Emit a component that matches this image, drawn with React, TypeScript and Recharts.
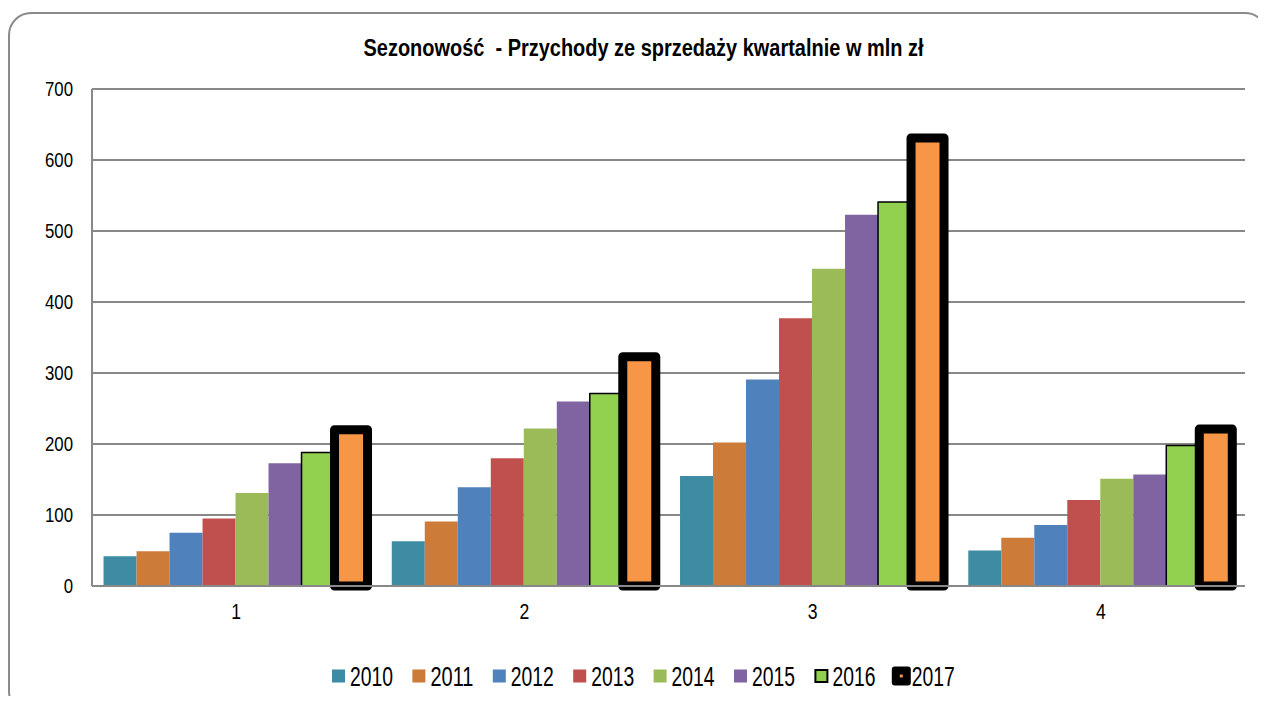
import { BarChart, Bar, XAxis, YAxis, CartesianGrid } from 'recharts';

const FONT = "'Liberation Sans', Arial, sans-serif";

// kwartały
const quarters = ['1', '2', '3', '4'];
const years = ['2010', '2011', '2012', '2013', '2014', '2015', '2016', '2017'];

// przychody w mln zł
const v2010 = [42, 63, 155, 50];
const v2011 = [49, 91, 202, 68];
const v2012 = [75, 139, 291, 86];
const v2013 = [95, 180, 377, 121];
const v2014 = [131, 222, 447, 151];
const v2015 = [173, 260, 523, 157];
const v2016 = [188, 271, 541, 198];
const v2017 = [220, 323, 631, 221];

const yTicks = [0, 100, 200, 300, 400, 500, 600, 700];

const seriesValues = [v2010, v2011, v2012, v2013, v2014, v2015, v2016, v2017];
const colors = ['#3D8CA3', '#CC7B38', '#4F81BD', '#C0504D', '#9BBB59', '#8064A2', '#92D050', '#F79646'];

const data = quarters.map((q, i) => {
  const row: Record<string, string | number> = { quarter: q };
  years.forEach((y, j) => {
    row[y] = seriesValues[j][i];
  });
  return row;
});

// tekst zwężony jak w Arial Narrow
function YTick(props: any) {
  const { x, y, payload } = props;
  return (
    <g transform={`translate(${x},${y}) scale(0.8,1)`}>
      <text x={0} y={0} dy="0.355em" textAnchor="end" fontSize={21} fontFamily={FONT} fill="#000">
        {payload.value}
      </text>
    </g>
  );
}

function XTick(props: any) {
  const { x, y, payload } = props;
  return (
    <g transform={`translate(${x},${y}) scale(0.8,1)`}>
      <text x={0} y={0} dy="0.71em" textAnchor="middle" fontSize={22} fontFamily={FONT} fill="#000">
        {payload.value}
      </text>
    </g>
  );
}

function LegendItem({ index, label }: { index: number; label: string }) {
  const left = 332 + index * 80.4;
  const cy = 676;
  let marker;
  if (index === 7) {
    marker = (
      <g>
        <rect x={left - 3} y={cy - 9.5} width={19} height={19} rx={3} fill="#000" />
        <rect x={left + 5} y={cy - 1.5} width={3} height={3} fill={colors[7]} />
      </g>
    );
  } else if (index === 6) {
    marker = <rect x={left + 1} y={cy - 6} width={12} height={12} fill={colors[6]} stroke="#000" strokeWidth={2} />;
  } else {
    marker = <rect x={left} y={cy - 6.5} width={13} height={13} fill={colors[index]} />;
  }
  const tx = index === 7 ? left + 17 : left + 18;
  return (
    <g>
      {marker}
      <text x={tx} y={cy + 10} fontSize={28} fontFamily={FONT} fill="#000" textLength={43} lengthAdjust="spacingAndGlyphs">
        {label}
      </text>
    </g>
  );
}

export default function App() {
  return (
    <div style={{ position: 'relative', width: 1266, height: 704, margin: -8, overflow: 'hidden', background: '#fff' }}>
      <BarChart
        width={1266}
        height={704}
        data={data}
        margin={{ top: 89, right: 21, bottom: 88, left: 0 }}
        barGap={0}
        barCategoryGap="4%"
        style={{ position: 'absolute', left: 0, top: 0 }}
      >
        <CartesianGrid vertical={false} stroke="#888888" strokeWidth={2} />
        <XAxis
          dataKey="quarter"
          height={30}
          axisLine={{ stroke: '#888888', strokeWidth: 2 }}
          tickLine={false}
          tickSize={0}
          tickMargin={17}
          tick={<XTick />}
        />
        <YAxis
          width={92}
          domain={[0, 700]}
          ticks={yTicks}
          interval={0}
          axisLine={{ stroke: '#888888', strokeWidth: 2 }}
          tickLine={false}
          tickSize={0}
          tickMargin={19}
          tick={<YTick />}
        />
        {years.map((y, j) => (
          <Bar
            key={y}
            dataKey={y}
            fill={colors[j]}
            stroke={j >= 6 ? '#000' : 'none'}
            strokeWidth={j === 7 ? 9 : j === 6 ? 1.5 : 0}
            strokeLinejoin="round"
            isAnimationActive={false}
          />
        ))}
      </BarChart>
      <svg width={1266} height={704} style={{ position: 'absolute', left: 0, top: 0, pointerEvents: 'none' }}>
        <rect x={9} y={13} width={1258} height={700} rx={22} fill="none" stroke="#8a8a8a" strokeWidth={2} />
        <text
          x={643.5}
          y={56}
          textAnchor="middle"
          fontSize={23}
          fontWeight="bold"
          fontFamily={FONT}
          fill="#000"
          textLength={560}
          lengthAdjust="spacingAndGlyphs"
          style={{ whiteSpace: 'pre' }}
        >
          {'Sezonowość  - Przychody ze sprzedaży kwartalnie w mln zł'}
        </text>
        {years.map((y, j) => (
          <LegendItem key={y} index={j} label={y} />
        ))}
      </svg>
    </div>
  );
}
